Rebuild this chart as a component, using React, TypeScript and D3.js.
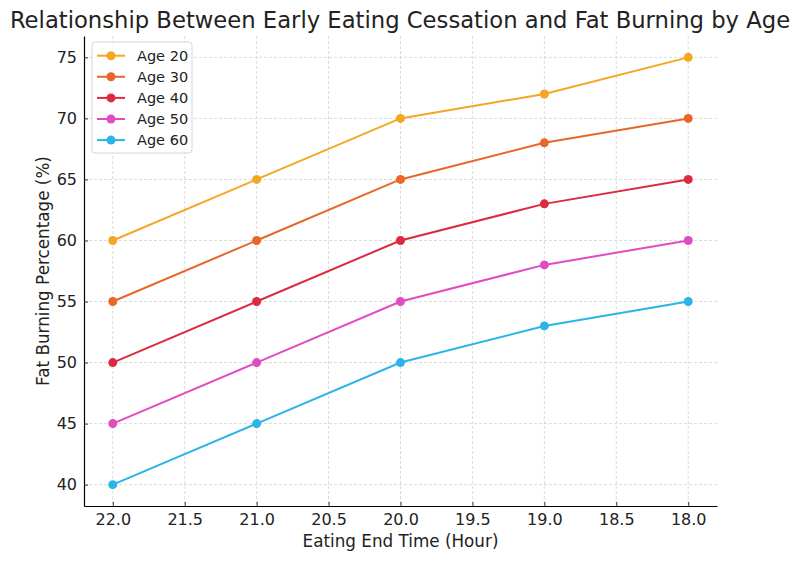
import React, { useEffect, useRef } from "react";
import * as d3 from "d3";

const endTimes = [22, 21, 20, 19, 18];
const seriesNames = ["Age 20", "Age 30", "Age 40", "Age 50", "Age 60"];
const age20 = [60, 65, 70, 72, 75];
const age30 = [55, 60, 65, 68, 70];
const age40 = [50, 55, 60, 63, 65];
const age50 = [45, 50, 55, 58, 60];
const age60 = [40, 45, 50, 53, 55];
const colors = ["#f5a623", "#e8662a", "#dc2a40", "#e24cc2", "#2bb4e8"];
const xTicks = [22, 21.5, 21, 20.5, 20, 19.5, 19, 18.5, 18];
const yTicks = [40, 45, 50, 55, 60, 65, 70, 75];

function App() {
  const ref = useRef<SVGSVGElement>(null);

  useEffect(() => {
    const width = 800;
    const height = 561;
    const margin = { top: 36, left: 84, bottom: 55, right: 83 };
    const font = "DejaVu Sans, sans-serif";

    const svg = d3.select(ref.current);
    svg.selectAll("*").remove();

    const values = [age20, age30, age40, age50, age60];
    const series = seriesNames.map((name, i) => ({
      name,
      color: colors[i],
      points: endTimes.map((t, j) => ({ t, v: values[i][j] })),
    }));

    const x = d3.scaleLinear()
      .domain([22.2, 17.8])
      .range([margin.left, width - margin.right]);

    const y = d3.scaleLinear()
      .domain([38.25, 76.75])
      .range([height - margin.bottom, margin.top]);

    // grid
    const grid = svg.append("g")
      .attr("stroke", "#d2d2d2")
      .attr("stroke-width", 0.8)
      .attr("stroke-dasharray", "3,2");
    grid.selectAll("line.gx")
      .data(xTicks)
      .enter()
      .append("line")
      .attr("x1", d => x(d)).attr("x2", d => x(d))
      .attr("y1", margin.top).attr("y2", height - margin.bottom);
    grid.selectAll("line.gy")
      .data(yTicks)
      .enter()
      .append("line")
      .attr("x1", margin.left).attr("x2", width - margin.right)
      .attr("y1", d => y(d)).attr("y2", d => y(d));

    // axes, ticks point inward like the original
    const xAxis = g => g
      .attr("transform", `translate(0, ${height - margin.bottom})`)
      .call(d3.axisBottom(x).tickValues(xTicks).tickFormat(d3.format(".1f"))
        .tickSizeInner(-4).tickSizeOuter(0).tickPadding(8));
    const yAxis = g => g
      .attr("transform", `translate(${margin.left}, 0)`)
      .call(d3.axisLeft(y).tickValues(yTicks).tickSizeInner(-4).tickSizeOuter(0).tickPadding(7));

    svg.append("g").call(xAxis);
    svg.append("g").call(yAxis);
    svg.selectAll(".domain").attr("stroke", "#000").attr("stroke-width", 1.2);
    svg.selectAll(".tick text")
      .attr("font-family", font)
      .attr("font-size", 16)
      .attr("fill", "#222");
    svg.selectAll(".tick line").attr("stroke", "#333");

    const line = d3.line<{ t: number; v: number }>()
      .x(d => x(d.t))
      .y(d => y(d.v));

    series.forEach(s => {
      svg.append("path")
        .datum(s.points)
        .attr("fill", "none")
        .attr("stroke", s.color)
        .attr("stroke-width", 2)
        .attr("d", line);
      svg.append("g")
        .attr("fill", s.color)
        .selectAll("circle")
        .data(s.points)
        .enter()
        .append("circle")
        .attr("cx", d => x(d.t))
        .attr("cy", d => y(d.v))
        .attr("r", 4.5);
    });

    // legend
    const legend = svg.append("g").attr("transform", "translate(92, 42)");
    legend.append("rect")
      .attr("width", 100).attr("height", 111)
      .attr("rx", 3)
      .attr("fill", "#fff").attr("fill-opacity", 0.85)
      .attr("stroke", "#d6d6d6");
    const items = legend.selectAll("g.item")
      .data(series)
      .enter()
      .append("g")
      .attr("transform", (d, i) => `translate(0, ${13.7 + i * 21.1})`);
    items.append("line")
      .attr("x1", 5).attr("x2", 33)
      .attr("stroke", d => d.color).attr("stroke-width", 2);
    items.append("circle")
      .attr("cx", 19).attr("r", 4.5)
      .attr("fill", d => d.color);
    items.append("text")
      .attr("x", 45).attr("dy", "0.35em")
      .attr("font-family", font).attr("font-size", 14.5)
      .attr("fill", "#222")
      .text(d => d.name);

    // labels
    svg.append("text")
      .attr("x", width / 2).attr("y", 28)
      .attr("text-anchor", "middle")
      .attr("font-family", font).attr("font-size", 22.7)
      .attr("fill", "#222")
      .text("Relationship Between Early Eating Cessation and Fat Burning by Age");
    svg.append("text")
      .attr("x", (margin.left + width - margin.right) / 2).attr("y", 547)
      .attr("text-anchor", "middle")
      .attr("font-family", font).attr("font-size", 16.8)
      .attr("fill", "#222")
      .text("Eating End Time (Hour)");
    svg.append("text")
      .attr("transform", `translate(49, ${(margin.top + height - margin.bottom) / 2}) rotate(-90)`)
      .attr("text-anchor", "middle")
      .attr("font-family", font).attr("font-size", 16.8)
      .attr("fill", "#222")
      .text("Fat Burning Percentage (%)");
  }, []);

  return (
    <svg ref={ref} width={800} height={561}
      style={{ position: "absolute", left: 0, top: 0, background: "#fff" }} />
  );
}

export default App;
